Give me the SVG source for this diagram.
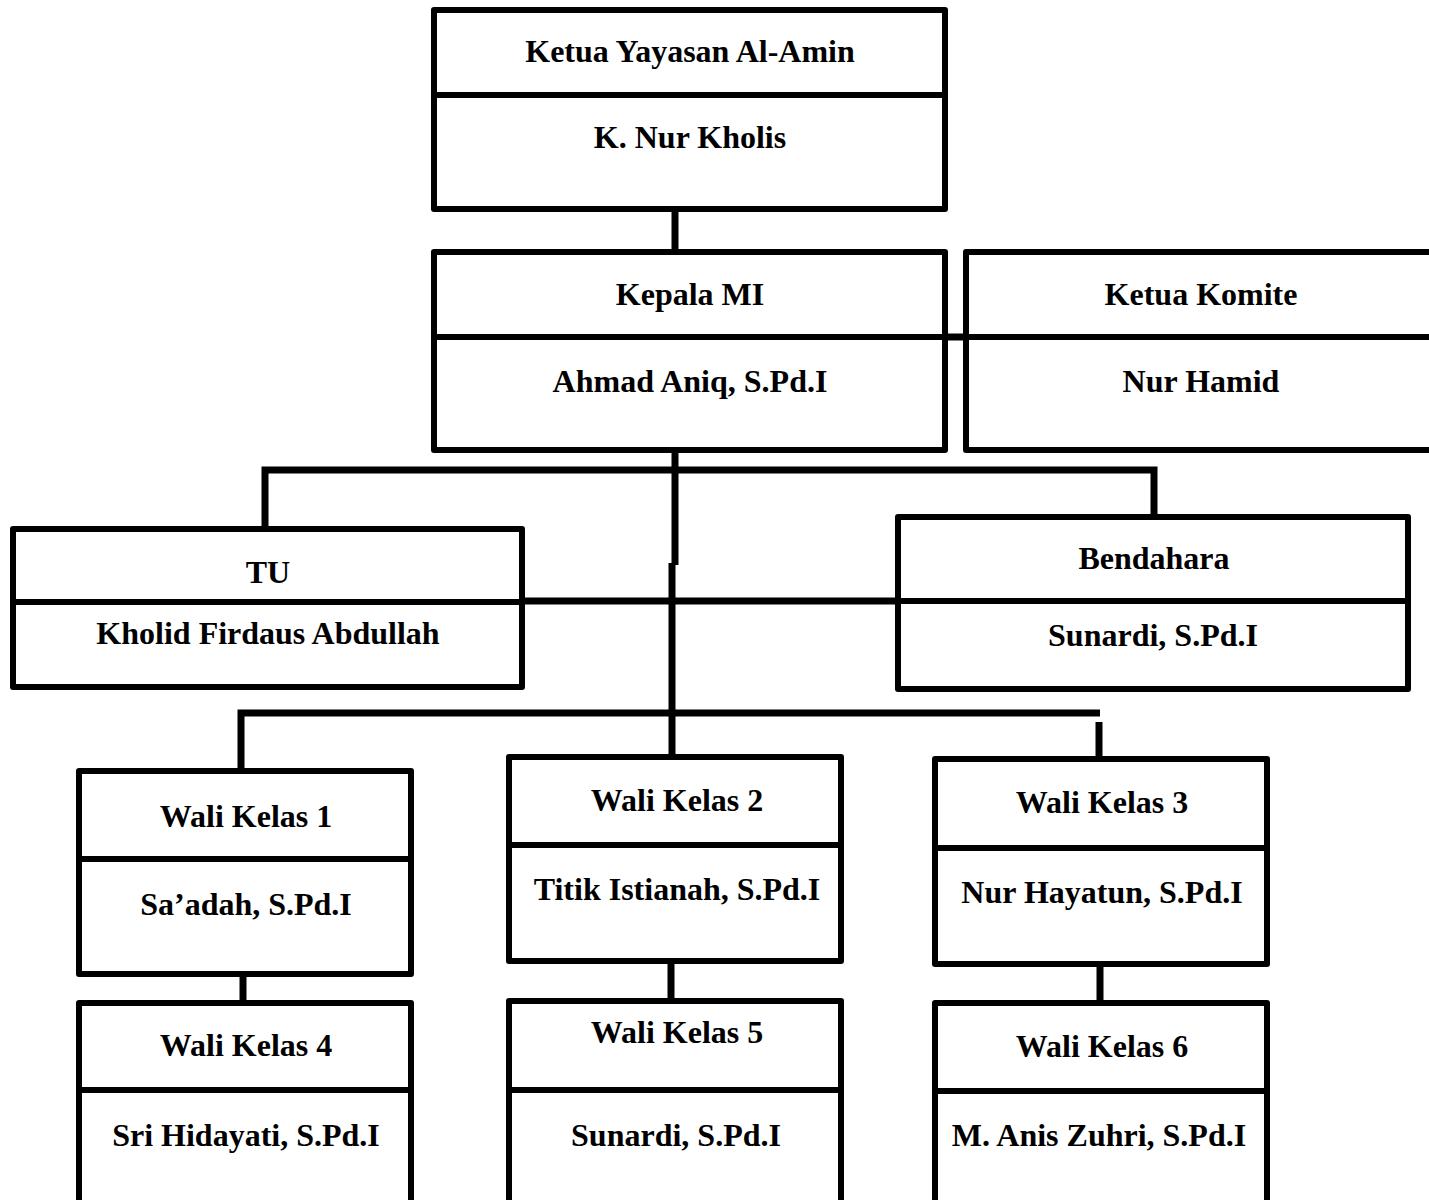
<svg xmlns="http://www.w3.org/2000/svg" width="1429" height="1200" viewBox="0 0 1429 1200">
<style>
.box{fill:#fff;stroke:#000;stroke-width:6;stroke-linejoin:round}
.div{stroke:#000;stroke-width:6}
.con{stroke:#000;stroke-width:7;fill:none;stroke-linecap:butt;stroke-linejoin:miter}
text{font-family:"Liberation Serif","Times New Roman",serif;font-weight:bold;font-size:32px;text-anchor:middle;fill:#000}
</style>
<rect width="1429" height="1200" fill="#fff"/>
<g id="connectors">
<line class="con" x1="675" y1="210" x2="675" y2="250"/>
<line class="con" x1="946" y1="337" x2="965" y2="337"/>
<line class="con" x1="675" y1="451" x2="675" y2="565"/>
<line class="con" x1="672" y1="563" x2="672" y2="756"/>
<path class="con" d="M265 528 V470 H1154 V516"/>
<line class="con" x1="523" y1="601" x2="897" y2="601"/>
<path class="con" d="M241 770 V713 H1100"/>
<line class="con" x1="1099" y1="722" x2="1099" y2="758"/>
<line class="con" x1="243" y1="975" x2="243" y2="1002"/>
<line class="con" x1="671" y1="962" x2="671" y2="1000"/>
<line class="con" x1="1100" y1="965" x2="1100" y2="1002"/>
</g>
<g id="ketua-yayasan">
<rect class="box" x="434" y="10" width="511" height="199"/>
<line class="div" x1="434" y1="95" x2="945" y2="95"/>
<text x="690" y="62">Ketua Yayasan Al-Amin</text>
<text x="690" y="148">K. Nur Kholis</text>
</g>
<g id="kepala-mi">
<rect class="box" x="434" y="252" width="511" height="198"/>
<line class="div" x1="434" y1="337" x2="945" y2="337"/>
<text x="690" y="305">Kepala MI</text>
<text x="690" y="392">Ahmad Aniq, S.Pd.I</text>
</g>
<g id="ketua-komite">
<rect class="box" x="966" y="252" width="480" height="198"/>
<line class="div" x1="966" y1="337" x2="1446" y2="337"/>
<text x="1201" y="305">Ketua Komite</text>
<text x="1201" y="392">Nur Hamid</text>
</g>
<g id="tu">
<rect class="box" x="13" y="529" width="509" height="158"/>
<line class="div" x1="13" y1="602" x2="522" y2="602"/>
<text x="268" y="583">TU</text>
<text x="268" y="644">Kholid Firdaus Abdullah</text>
</g>
<g id="bendahara">
<rect class="box" x="898" y="517" width="510" height="172"/>
<line class="div" x1="898" y1="601" x2="1408" y2="601"/>
<text x="1154" y="569">Bendahara</text>
<text x="1153" y="646">Sunardi, S.Pd.I</text>
</g>
<g id="wali-kelas-1">
<rect class="box" x="79" y="771" width="332" height="203"/>
<line class="div" x1="79" y1="859" x2="411" y2="859"/>
<text x="246" y="827">Wali Kelas 1</text>
<text x="246" y="915">Sa’adah, S.Pd.I</text>
</g>
<g id="wali-kelas-4">
<rect class="box" x="79" y="1003" width="332" height="220"/>
<line class="div" x1="79" y1="1090" x2="411" y2="1090"/>
<text x="246" y="1056">Wali Kelas 4</text>
<text x="246" y="1146">Sri Hidayati, S.Pd.I</text>
</g>
<g id="wali-kelas-2">
<rect class="box" x="509" y="757" width="332" height="204"/>
<line class="div" x1="509" y1="845" x2="841" y2="845"/>
<text x="677" y="811">Wali Kelas 2</text>
<text x="677" y="900">Titik Istianah, S.Pd.I</text>
</g>
<g id="wali-kelas-5">
<rect class="box" x="509" y="1001" width="332" height="222"/>
<line class="div" x1="509" y1="1090" x2="841" y2="1090"/>
<text x="677" y="1043">Wali Kelas 5</text>
<text x="676" y="1146">Sunardi, S.Pd.I</text>
</g>
<g id="wali-kelas-3">
<rect class="box" x="935" y="759" width="332" height="205"/>
<line class="div" x1="935" y1="848" x2="1267" y2="848"/>
<text x="1102" y="813">Wali Kelas 3</text>
<text x="1102" y="903">Nur Hayatun, S.Pd.I</text>
</g>
<g id="wali-kelas-6">
<rect class="box" x="935" y="1003" width="332" height="220"/>
<line class="div" x1="935" y1="1091" x2="1267" y2="1091"/>
<text x="1102" y="1057">Wali Kelas 6</text>
<text x="1099" y="1146">M. Anis Zuhri, S.Pd.I</text>
</g>
</svg>
